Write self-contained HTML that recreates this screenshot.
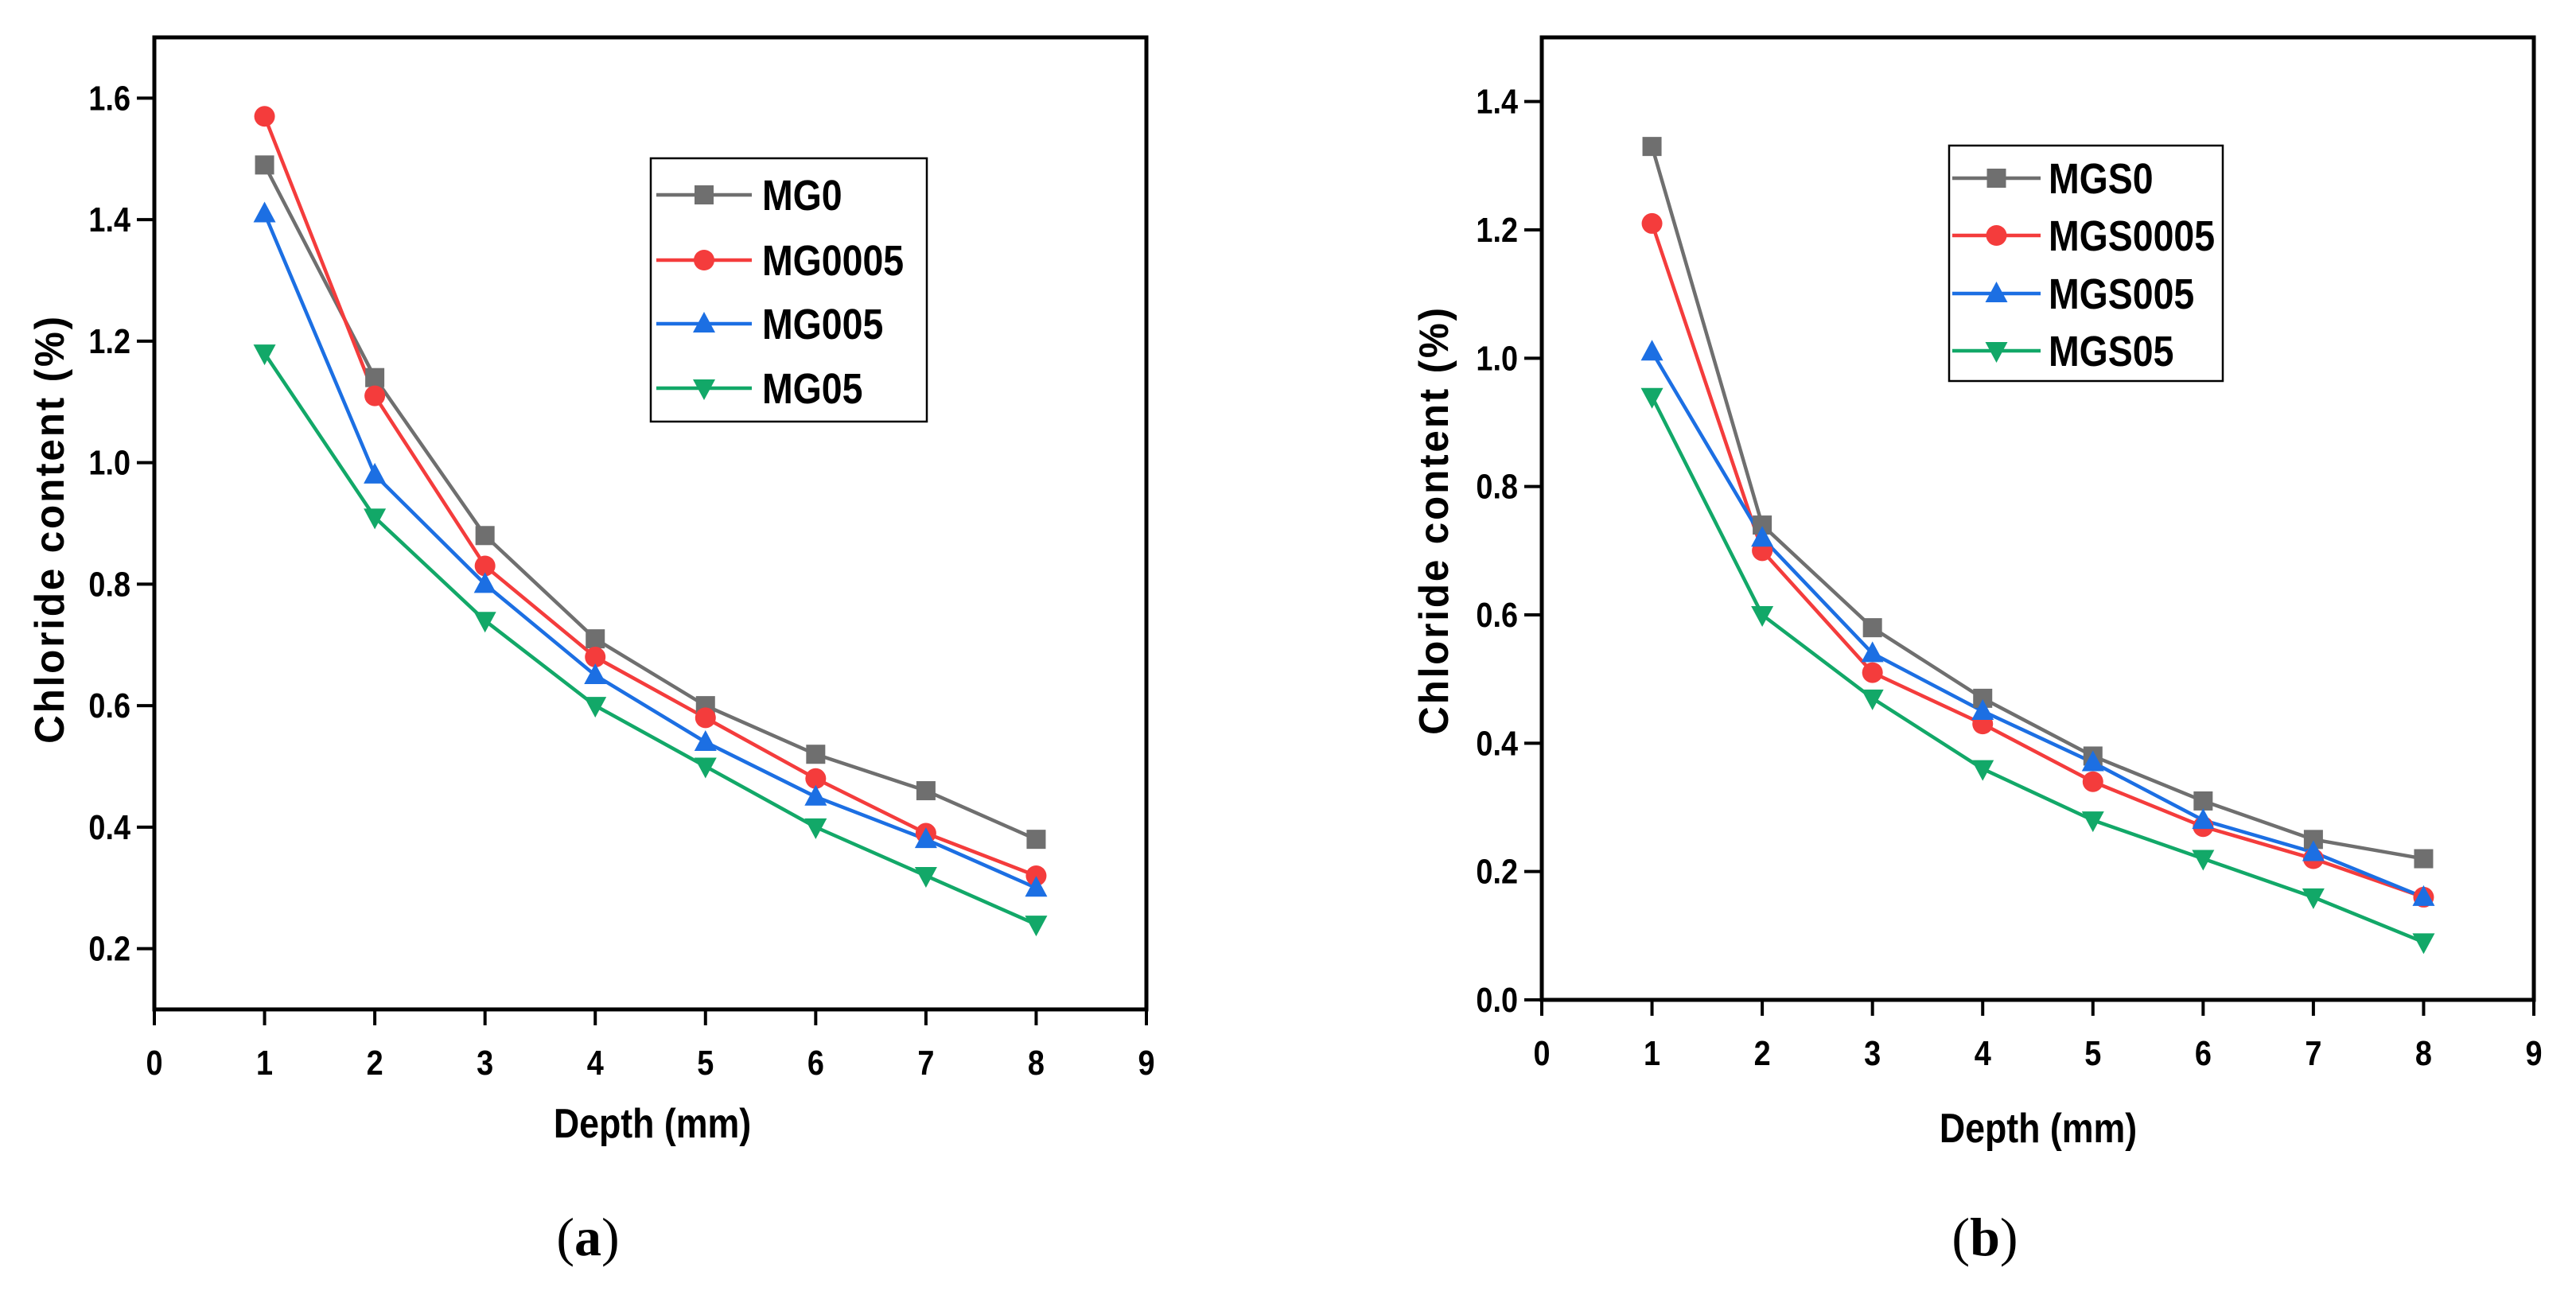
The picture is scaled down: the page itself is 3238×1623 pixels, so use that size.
<!DOCTYPE html>
<html><head><meta charset="utf-8"><style>
html,body{margin:0;padding:0;background:#fff;}
svg{display:block;}
</style></head><body>
<svg id="fig" width="3238" height="1623" viewBox="0 0 3238 1623" xmlns="http://www.w3.org/2000/svg"></svg>
<script>
const xTicks=[0,1,2,3,4,5,6,7,8,9];
const depths=[1,2,3,4,5,6,7,8];
const aNames=["MG0","MG0005","MG005","MG05"];
const aMG0=[1.49,1.14,0.88,0.71,0.60,0.52,0.46,0.38];
const aMG0005=[1.57,1.11,0.83,0.68,0.58,0.48,0.39,0.32];
const aMG005=[1.41,0.98,0.80,0.65,0.54,0.45,0.38,0.30];
const aMG05=[1.18,0.91,0.74,0.60,0.50,0.40,0.32,0.24];
const aYTicks=[0.2,0.4,0.6,0.8,1.0,1.2,1.4,1.6];
const bNames=["MGS0","MGS0005","MGS005","MGS05"];
const bMGS0=[1.33,0.74,0.58,0.47,0.38,0.31,0.25,0.22];
const bMGS0005=[1.21,0.70,0.51,0.43,0.34,0.27,0.22,0.16];
const bMGS005=[1.01,0.72,0.54,0.45,0.37,0.28,0.23,0.16];
const bMGS05=[0.94,0.60,0.47,0.36,0.28,0.22,0.16,0.09];
const bYTicks=[0.0,0.2,0.4,0.6,0.8,1.0,1.2,1.4];

const NS="http://www.w3.org/2000/svg";
const svg=document.getElementById('fig');
const colors=["#6f6f6f","#f43c3c","#1c6fe3","#12a868"];
const shapes=["square","circle","up","down"];
const SANS='font-family:"Liberation Sans",sans-serif;font-weight:bold;';
function mk(tag,attrs,parent,txt){const e=document.createElementNS(NS,tag);for(const k in attrs)e.setAttribute(k,attrs[k]);if(txt!==undefined)e.textContent=txt;(parent||svg).appendChild(e);return e;}
// narrow text: scale x by 0.86 around anchor
function ntext(g,x,y,size,anchor,str,extra){
  const t=mk('text',Object.assign({x:0,y:0,'font-size':size,'text-anchor':anchor,style:SANS,transform:`translate(${x} ${y}) scale(0.86 1)`},extra||{}),g,str);
  return t;
}
function marker(g,shape,x,y,c){
  let e;
  if(shape==="square")e=mk('rect',{x:x-12,y:y-12,width:24,height:24,fill:c},g);
  else if(shape==="circle")e=mk('circle',{cx:x,cy:y,r:13,fill:c},g);
  else if(shape==="up")e=mk('polygon',{points:`${x},${y-15} ${x-14},${y+11} ${x+14},${y+11}`,fill:c},g);
  else e=mk('polygon',{points:`${x},${y+15} ${x-14},${y-11} ${x+14},${y-11}`,fill:c},g);
  
  
}
function panel(id,L,R,T,B,ymin,ymax,yTicks,names,series,leg,yTitle,xTitle,cap){
  const g=mk('g',{});
  
  
  const sx=v=>L+(v-0)/(9-0)*(R-L);
  const sy=v=>B-(v-ymin)/(ymax-ymin)*(B-T);
  series.forEach((s,i)=>{
    const pl=mk('polyline',{points:depths.map((d,j)=>sx(d)+','+sy(s[j])).join(' '),fill:'none',stroke:colors[i],'stroke-width':4.5,'stroke-linejoin':'round'},g);
    
    
  });
  series.forEach((s,i)=>depths.forEach((d,j)=>marker(g,shapes[i],sx(d),sy(s[j]),colors[i])));
  const fr=mk('rect',{x:L,y:T,width:R-L,height:B-T,fill:'none',stroke:'#000','stroke-width':5},g);
  
  
  xTicks.forEach(v=>{
    mk('line',{x1:sx(v),x2:sx(v),y1:B,y2:B+20,stroke:'#000','stroke-width':4},g);
    const t=ntext(g,sx(v),B+82,44,'middle',String(v));
    
    
  });
  yTicks.forEach(v=>{
    mk('line',{x1:L-22,x2:L,y1:sy(v),y2:sy(v),stroke:'#000','stroke-width':4},g);
    const t=ntext(g,L-30,sy(v)+15,44,'end',v.toFixed(1));
    
    
  });
  const yt=mk('text',{x:0,y:0,'font-size':52,'text-anchor':'middle',style:SANS+'letter-spacing:3px;',transform:`translate(${yTitle[0]} ${yTitle[1]}) rotate(-90) scale(0.95 1)`},g,'Chloride content (%)');
  
  
  const xt=ntext(g,xTitle[0],xTitle[1],52,'middle','Depth (mm)');
  
  
  const ct=mk('text',{x:cap[0],y:cap[1],'font-size':68,'text-anchor':'middle',style:'font-family:"Liberation Serif",serif;font-weight:normal;'},g);
  
  
  mk('tspan',{},ct,'(');mk('tspan',{style:'font-weight:bold;'},ct,cap[2]);mk('tspan',{},ct,')');
  const lg=mk('g',{},g);
  
  
  mk('rect',{x:leg.x,y:leg.y,width:leg.w,height:leg.h,fill:'#fff',stroke:'#000','stroke-width':2.5},lg);
  names.forEach((n,i)=>{
    const ey=leg.rows[i];
    const e=mk('g',{},lg);
    
    
    mk('line',{x1:leg.l1,x2:leg.l2,y1:ey,y2:ey,stroke:colors[i],'stroke-width':4.5},e);
    marker(e,shapes[i],(leg.l1+leg.l2)/2,ey,colors[i]);
    ntext(e,leg.tx,ey+19,54,'start',n);
  });
}
panel('a',194,1441,47,1269,0.1,1.7,aYTicks,aNames,[aMG0,aMG0005,aMG005,aMG05],
 {x:818,y:199,w:347,h:331,rows:[245,327,407,488],l1:825,l2:945,tx:958},
 [80,665],[820,1430],[739,1578,'a']);
panel('b',1938,3185,47,1257,0,1.5,bYTicks,bNames,[bMGS0,bMGS0005,bMGS005,bMGS05],
 {x:2450,y:183,w:344,h:296,rows:[224,296,369,441],l1:2454,l2:2565,tx:2575},
 [1820,654],[2562,1436],[2495,1578,'b']);
</script>
</body></html>
